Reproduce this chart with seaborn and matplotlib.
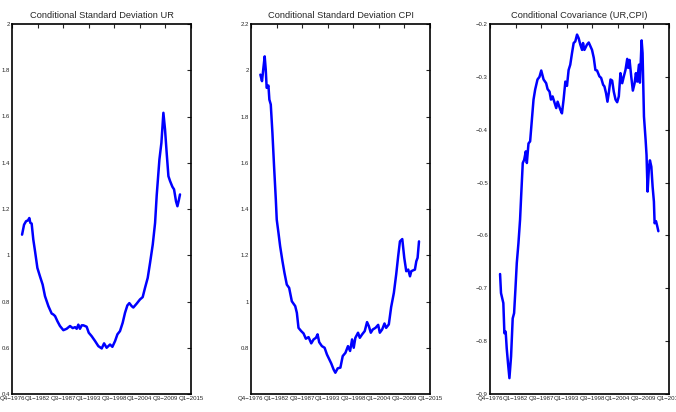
import numpy as np
import pandas as pd
import seaborn as sns
import matplotlib.pyplot as plt
from matplotlib.ticker import FuncFormatter

# quarter index, 0 = Q4-1976
tick_labels = ["Q4−1976", "Q1−1982", "Q3−1987", "Q1−1993",
               "Q3−1998", "Q1−2004", "Q3−2009", "Q1−2015"]

ur_q = [8.6, 10.3, 12.0, 13.7, 14.8, 15.7, 16.8, 18.2, 19.7, 21.7, 23.9, 26.2, 28.2,
        31.1, 33.9, 35.3, 36.8, 38.8, 41.0, 43.9, 46.7, 49.6, 51.9, 53.9, 55.3, 56.7,
        58.1, 59.6, 61.0, 63.8, 65.6, 68.1, 71.0, 73.8, 76.7, 78.7, 80.9, 83.8, 85.8,
        88.1, 90.1, 92.3, 94.6, 96.6, 98.6, 100.3, 102.3, 103.7, 106.6, 109.4, 111.7,
        113.7, 116.0, 118.0, 120.3, 122.3, 123.7, 126.0, 127.7, 129.4, 130.8, 132.2,
        133.7, 135.1, 137.1, 138.5, 140.2, 141.4, 142.5, 143.6]
ur_sd = [1.089, 1.132, 1.147, 1.151, 1.161, 1.14, 1.137, 1.068, 1.017, 0.945, 0.909,
         0.873, 0.823, 0.78, 0.748, 0.744, 0.737, 0.715, 0.694, 0.676, 0.682, 0.694,
         0.685, 0.689, 0.682, 0.70, 0.682, 0.697, 0.697, 0.691, 0.665, 0.65, 0.629,
         0.607, 0.597, 0.619, 0.60, 0.614, 0.604, 0.629, 0.658, 0.672, 0.708, 0.751,
         0.783, 0.793, 0.78, 0.774, 0.791, 0.809, 0.819, 0.859, 0.902, 0.967, 1.046,
         1.14, 1.26, 1.414, 1.486, 1.616, 1.544, 1.443, 1.342, 1.321, 1.296, 1.285,
         1.233, 1.212, 1.236, 1.263]

cpi_q = [8.0, 9.4, 10.6, 11.7, 12.6, 13.4, 14.9, 15.7, 16.9, 18.3, 19.7, 21.2, 22.0,
         23.5, 24.9, 26.9, 28.6, 30.6, 32.6, 34.9, 37.8, 39.2, 40.6, 42.9, 44.9, 46.9,
         49.2, 51.5, 53.5, 55.5, 56.9, 58.3, 60.6, 62.9, 64.9, 66.9, 68.6, 70.6, 72.1,
         74.1, 76.4, 78.4, 80.7, 82.9, 84.7, 86.4, 87.8, 89.2, 91.5, 93.0, 95.0, 97.2,
         99.2, 100.7, 102.4, 104.1, 106.4, 108.7, 110.1, 112.1, 114.1, 115.5, 117.8,
         119.8, 122.1, 124.1, 125.8, 127.3, 129.3, 131.0, 132.7, 134.4, 135.9, 137.0,
         138.7, 140.1, 141.3, 142.4, 143.6]
cpi_sd = [1.981, 1.953, 2.01, 2.06, 2.003, 1.924, 1.934, 1.873, 1.852, 1.73, 1.586,
          1.442, 1.354, 1.296, 1.239, 1.174, 1.124, 1.073, 1.059, 1.001, 0.98, 0.951,
          0.886, 0.872, 0.862, 0.839, 0.846, 0.819, 0.836, 0.843, 0.858, 0.824, 0.807,
          0.80, 0.771, 0.75, 0.732, 0.706, 0.692, 0.711, 0.714, 0.764, 0.778, 0.807,
          0.786, 0.836, 0.80, 0.843, 0.865, 0.843, 0.858, 0.872, 0.911, 0.894, 0.865,
          0.879, 0.886, 0.899, 0.865, 0.879, 0.905, 0.886, 0.901, 0.976, 1.037, 1.117,
          1.196, 1.26, 1.27, 1.189, 1.131, 1.138, 1.109, 1.131, 1.135, 1.138, 1.174,
          1.189, 1.26]

cov_q = [8.6, 9.4, 11.4, 12.3, 13.4, 14.3, 15.4, 16.6, 18.0, 19.4, 20.6, 21.7, 22.9,
         24.3, 25.7, 26.6, 28.0, 29.2, 30.6, 31.5, 32.9, 34.3, 35.8, 37.2, 38.6, 40.6,
         42.3, 43.8, 45.8, 48.0, 49.2, 50.9, 52.1, 53.5, 54.9, 56.6, 57.8, 60.1, 61.5,
         62.9, 64.4, 65.8, 67.2, 68.6, 70.1, 71.5, 72.9, 74.4, 75.8, 77.2, 78.7, 79.5,
         80.7, 82.9, 84.4, 85.8, 87.2, 88.7, 90.1, 91.5, 93.5, 95.0, 96.7, 97.8, 99.2,
         100.4, 101.5, 103.0, 104.4, 105.8, 107.3, 108.7, 110.1, 111.5, 113.0, 114.4,
         115.8, 117.3, 118.1, 119.3, 120.7, 122.1, 123.6, 124.7, 125.8, 127.3, 128.1,
         129.0, 129.6, 130.4, 131.6, 133.0, 133.8, 134.7, 135.9, 136.7, 137.9, 139.0,
         140.1, 140.7, 141.9, 143.0, 143.9]
cov_val = [-0.673, -0.709, -0.728, -0.785, -0.782, -0.814, -0.842, -0.870, -0.829,
           -0.757, -0.747, -0.703, -0.652, -0.615, -0.57, -0.527, -0.463, -0.457,
           -0.441, -0.463, -0.426, -0.422, -0.381, -0.343, -0.324, -0.305, -0.30,
           -0.288, -0.305, -0.312, -0.323, -0.328, -0.343, -0.337, -0.347, -0.359,
           -0.347, -0.362, -0.369, -0.343, -0.309, -0.317, -0.287, -0.277, -0.255,
           -0.236, -0.233, -0.22, -0.227, -0.239, -0.249, -0.236, -0.249, -0.239,
           -0.235, -0.242, -0.249, -0.264, -0.287, -0.288, -0.299, -0.302, -0.315,
           -0.318, -0.331, -0.347, -0.331, -0.305, -0.307, -0.328, -0.343, -0.348,
           -0.337, -0.293, -0.312, -0.299, -0.287, -0.266, -0.283, -0.268, -0.299,
           -0.326, -0.312, -0.293, -0.309, -0.277, -0.311, -0.264, -0.231, -0.255,
           -0.375, -0.419, -0.448, -0.517, -0.47, -0.458, -0.47, -0.508, -0.536,
           -0.577, -0.573, -0.583, -0.592]

sns.set_style("white")
plt.rcParams["font.family"] = ["Liberation Sans", "DejaVu Sans"]

fig = plt.figure(figsize=(6.76, 4.12), dpi=100)
lefts = [12 / 676, 251 / 676, 490 / 676]
panels = [
    (ur_q, ur_sd, "Conditional Standard Deviation UR", (0.4, 2.0), np.arange(0.4, 2.01, 0.2)),
    (cpi_q, cpi_sd, "Conditional Standard Deviation CPI", (0.6, 2.2), np.arange(0.8, 2.21, 0.2)),
    (cov_q, cov_val, "Conditional Covariance (UR,CPI)", (-0.9, -0.2), np.arange(-0.9, -0.19, 0.1)),
]

fmt = FuncFormatter(lambda v, p: f"{round(v, 2):g}".replace("-", "−"))

for left, (q, vals, title, ylim, yt) in zip(lefts, panels):
    ax = fig.add_axes([left, 18 / 412, 179 / 676, 370 / 412])
    df = pd.DataFrame({"q": q, "v": vals})
    sns.lineplot(data=df, x="q", y="v", ax=ax, color="#0000ff", linewidth=1.8, sort=False)
    ax.set_xlim(0, 153)
    ax.set_ylim(*ylim)
    ax.set_xticks(np.linspace(0, 153, 8))
    ax.set_xticklabels(tick_labels)
    ax.set_yticks(yt)
    ax.yaxis.set_major_formatter(fmt)
    ax.set_xlabel("")
    ax.set_ylabel("")
    ax.set_title(title, fontsize=6.7, pad=4)
    ax.tick_params(axis="x", direction="in", top=True, length=3, width=0.8,
                   labelsize=4.4, pad=1.5)
    ax.tick_params(axis="y", direction="in", right=True, length=3, width=0.8,
                   labelsize=4.3, pad=1.5)
    for s in ax.spines.values():
        s.set_color("black")
        s.set_linewidth(1.2)

fig.savefig("out.png", dpi=100)
